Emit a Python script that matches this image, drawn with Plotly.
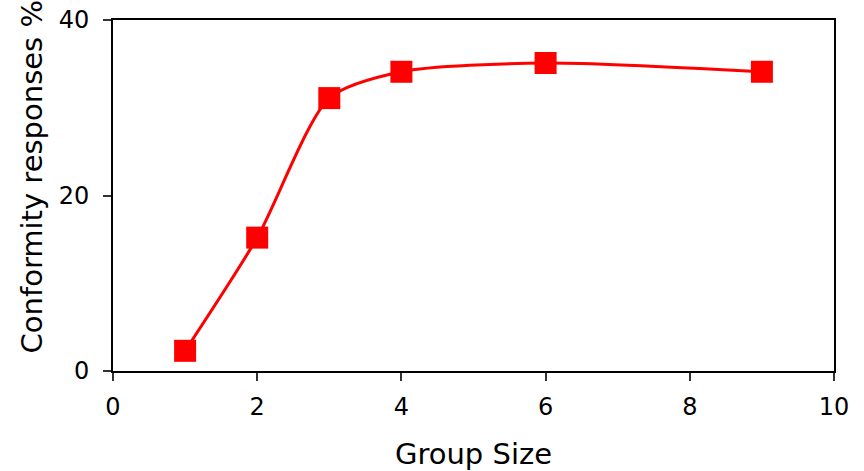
import plotly.graph_objects as go

group_size = [1, 2, 3, 4, 6, 9]
conformity = [2.3, 15.2, 31.1, 34.1, 35.1, 34.1]

x_ticks = [0, 2, 4, 6, 8, 10]
y_ticks = [0, 20, 40]

FONT = "DejaVu Sans, Verdana, sans-serif"

fig = go.Figure()
fig.add_trace(go.Scatter(
    x=group_size, y=conformity,
    mode="lines+markers",
    line=dict(color="#FF0000", width=3, shape="spline", smoothing=0.7),
    marker=dict(symbol="square", size=22, color="#FF0000"),
    showlegend=False,
))

fig.update_layout(
    width=864, height=471,
    margin=dict(l=113, r=30, t=20, b=100, autoexpand=False),
    paper_bgcolor="white", plot_bgcolor="white",
    font=dict(family=FONT, color="black", size=24),
    xaxis=dict(
        range=[0, 10], tickvals=x_ticks, ticktext=[str(v) for v in x_ticks],
        showgrid=False, zeroline=False, automargin=False,
        showline=True, linecolor="black", linewidth=2, mirror=True,
        ticks="outside", ticklen=8, tickwidth=1.5, tickcolor="#333",
        tickfont=dict(size=24), ticklabelstandoff=5,
        title=dict(text="Group Size", font=dict(size=29), standoff=25),
    ),
    yaxis=dict(
        range=[0, 40], tickvals=y_ticks, ticktext=[str(v) for v in y_ticks],
        showgrid=False, zeroline=False, automargin=False,
        showline=True, linecolor="black", linewidth=2, mirror=True,
        ticks="outside", ticklen=8, tickwidth=1.5, tickcolor="#333",
        tickfont=dict(size=24), ticklabelstandoff=9,
    ),
    annotations=[dict(
        text="Conformity responses %", textangle=-90,
        xref="paper", yref="paper", x=-0.113, y=0.553,
        xanchor="center", yanchor="middle", showarrow=False,
        font=dict(size=29, family=FONT, color="black"),
    )],
)

fig.write_html("out.html", config={"displayModeBar": False},
               post_script="document.body.style.margin='0px';")
